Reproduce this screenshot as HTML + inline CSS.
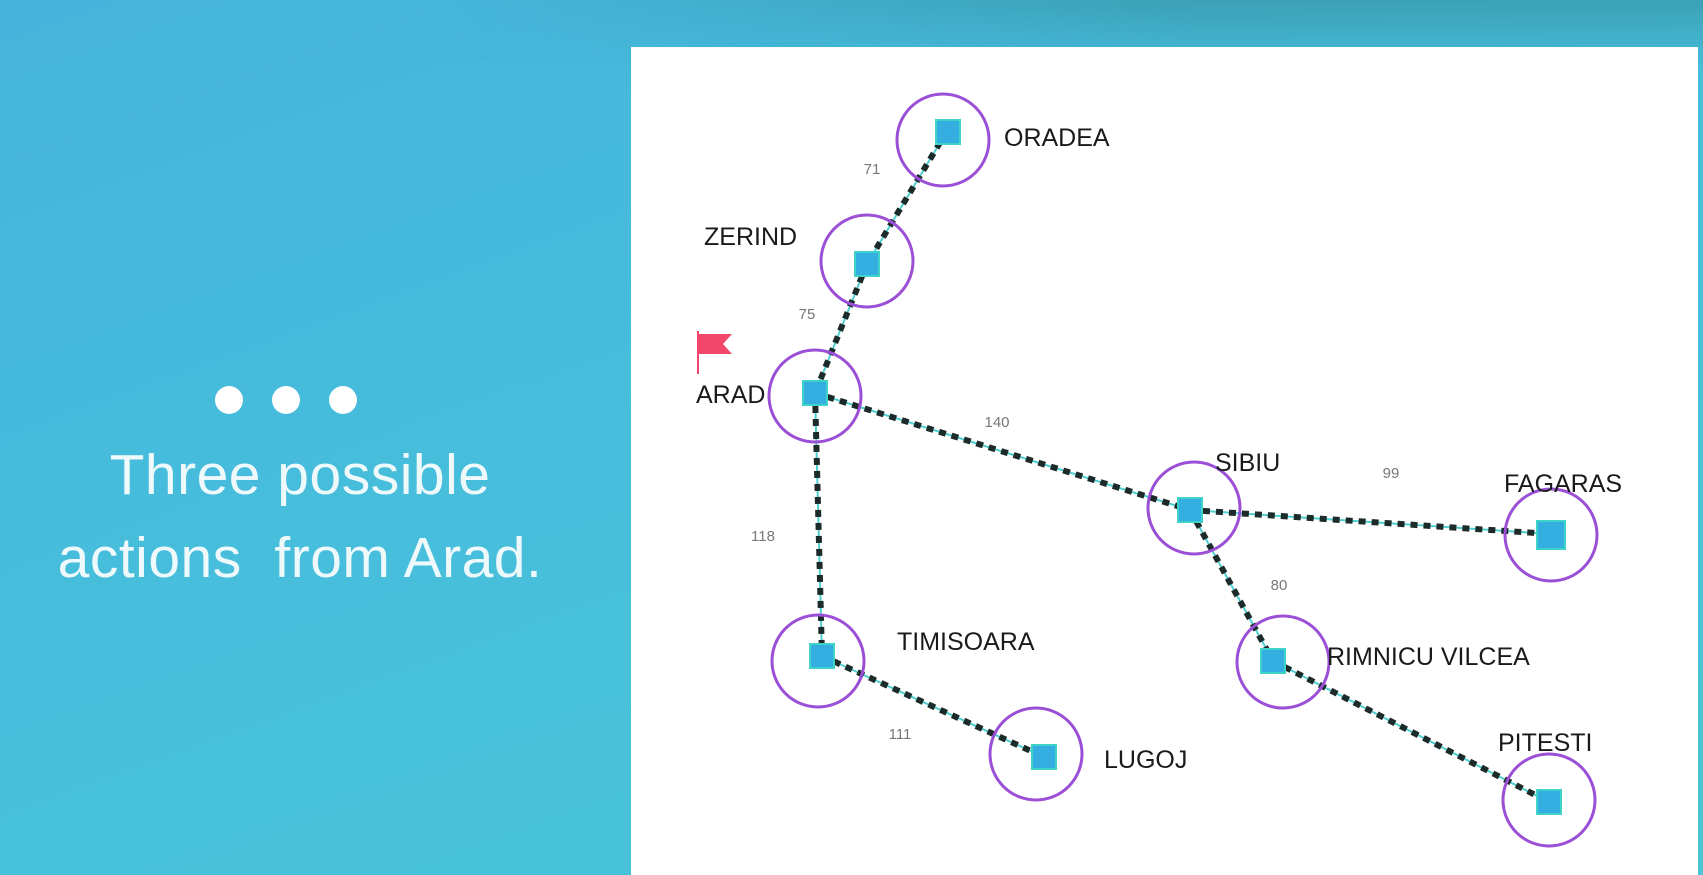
<!DOCTYPE html>
<html><head><style>
html,body{margin:0;padding:0;}
body{width:1703px;height:875px;overflow:hidden;position:relative;font-family:"Liberation Sans",sans-serif;
background:linear-gradient(160deg,#45b4dc 0%,#47bedc 45%,#48c6d3 100%);}
.top{position:absolute;left:0;top:0;width:1703px;height:70px;background:linear-gradient(180deg,rgba(50,140,150,.55) 0%,rgba(55,150,165,0) 100%);
-webkit-mask-image:linear-gradient(90deg,transparent 25%,#000 70%);mask-image:linear-gradient(90deg,transparent 25%,#000 70%);}
.panel{position:absolute;left:631px;top:47px;width:1067px;height:828px;background:#fff;}
.txt{position:absolute;left:0;width:600px;text-align:center;color:#eef9fc;font-size:57px;font-weight:300;letter-spacing:0.5px;}
.dot{position:absolute;width:28px;height:28px;border-radius:50%;background:#fff;top:386px;}
</style></head><body>
<div class="top"></div>
<div class="dot" style="left:215px"></div>
<div class="dot" style="left:272px"></div>
<div class="dot" style="left:329px"></div>
<div class="txt" style="top:442px">Three possible</div>
<div class="txt" style="top:525px">actions&nbsp; from Arad.</div>
<div class="panel"></div>
<svg width="1703" height="875" style="position:absolute;left:0;top:0">
<g stroke-linecap="butt">
<g stroke="#4fd0d0" stroke-width="2">
<line x1="947" y1="131" x2="867" y2="264"/><line x1="867" y1="264" x2="815" y2="393"/>
<line x1="815" y1="393" x2="1190" y2="510"/><line x1="815" y1="393" x2="822" y2="656"/>
<line x1="822" y1="656" x2="1044" y2="757"/><line x1="1190" y1="510" x2="1551" y2="534"/>
<line x1="1190" y1="510" x2="1273" y2="661"/><line x1="1273" y1="661" x2="1549" y2="802"/>
</g>
<g stroke="#1d2a2a" stroke-width="6" stroke-dasharray="7 6">
<line x1="947" y1="131" x2="867" y2="264"/><line x1="867" y1="264" x2="815" y2="393"/>
<line x1="815" y1="393" x2="1190" y2="510"/><line x1="815" y1="393" x2="822" y2="656"/>
<line x1="822" y1="656" x2="1044" y2="757"/><line x1="1190" y1="510" x2="1551" y2="534"/>
<line x1="1190" y1="510" x2="1273" y2="661"/><line x1="1273" y1="661" x2="1549" y2="802"/>
</g>
</g>
<g fill="none" stroke="#9a4fd6" stroke-width="3">
<circle cx="943" cy="140" r="46"/><circle cx="867" cy="261" r="46"/><circle cx="815" cy="396" r="46"/>
<circle cx="1194" cy="508" r="46"/><circle cx="1551" cy="535" r="46"/><circle cx="818" cy="661" r="46"/>
<circle cx="1036" cy="754" r="46"/><circle cx="1283" cy="662" r="46"/><circle cx="1549" cy="800" r="46"/>
</g>
<g fill="#34aee0" stroke="#3fd3c8" stroke-width="2">
<rect x="936" y="120" width="24" height="24"/><rect x="855" y="252" width="24" height="24"/>
<rect x="803" y="381" width="24" height="24"/><rect x="1178" y="498" width="24" height="24"/>
<rect x="1537" y="521" width="28" height="28"/><rect x="810" y="644" width="24" height="24"/>
<rect x="1032" y="745" width="24" height="24"/><rect x="1261" y="649" width="24" height="24"/>
<rect x="1537" y="790" width="24" height="24"/>
</g>
<g font-family="Liberation Sans, sans-serif" font-size="25" fill="#1a1a1a">
<text x="1004" y="146">ORADEA</text><text x="704" y="245">ZERIND</text>
<text x="696" y="403">ARAD</text><text x="1215" y="471">SIBIU</text>
<text x="1504" y="492">FAGARAS</text><text x="897" y="650">TIMISOARA</text>
<text x="1104" y="768">LUGOJ</text><text x="1327" y="665">RIMNICU VILCEA</text>
<text x="1498" y="751">PITESTI</text>
</g>
<g font-family="Liberation Sans, sans-serif" font-size="15" fill="#777" text-anchor="middle">
<text x="872" y="174">71</text><text x="807" y="319">75</text><text x="997" y="427">140</text>
<text x="1391" y="478">99</text><text x="763" y="541">118</text><text x="1279" y="590">80</text>
<text x="900" y="739">111</text>
</g>
<line x1="698" y1="331" x2="698" y2="374" stroke="#f2476a" stroke-width="2"/>
<polygon points="699,334 732,334 723,344 732,354 699,354" fill="#f2476a"/>
</svg>
</body></html>
